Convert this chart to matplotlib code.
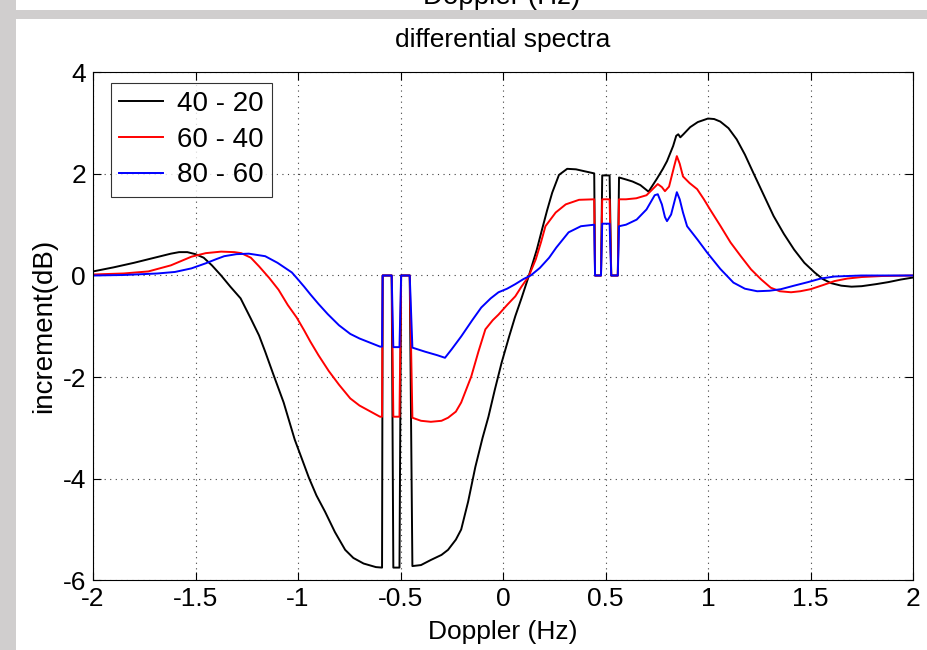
import matplotlib
matplotlib.use("Agg")
import matplotlib.pyplot as plt
from matplotlib.patches import Rectangle

plt.rcParams['font.family'] = ['Liberation Sans', 'DejaVu Sans']
plt.rcParams['axes.unicode_minus'] = False

# --- data ---
series_labels = ['40 - 20', '60 - 40', '80 - 60']
series_colors = ['black', 'red', 'blue']

x_40_20 = [-2.00, -1.90, -1.80, -1.70, -1.62, -1.58, -1.54, -1.50, -1.46, -1.42, -1.375,
           -1.33, -1.28, -1.23, -1.19, -1.16, -1.12, -1.07, -1.016, -0.98, -0.947, -0.91,
           -0.868, -0.82, -0.77, -0.73, -0.68,
           -0.62, -0.590, -0.587, -0.543, -0.535, -0.505, -0.497, -0.455, -0.442,
           -0.40, -0.352, -0.30, -0.268, -0.23, -0.204, -0.17, -0.135, -0.10, -0.071,
           -0.04, -0.007, 0.03, 0.06, 0.09, 0.125, 0.165, 0.19, 0.215, 0.24, 0.273, 0.313,
           0.356, 0.40, 0.445, 0.449, 0.478, 0.484, 0.520, 0.528, 0.560, 0.566,
           0.60, 0.632, 0.67, 0.71, 0.75, 0.78, 0.80, 0.83, 0.845, 0.855, 0.865, 0.88,
           0.913, 0.95, 1.00, 1.03, 1.06, 1.10, 1.14, 1.18, 1.22, 1.27, 1.32, 1.37,
           1.42, 1.47, 1.52, 1.56, 1.60, 1.65, 1.70, 1.75, 1.82, 1.88, 1.94, 2.00]
y_40_20 = [0.08, 0.16, 0.25, 0.35, 0.43, 0.46, 0.46, 0.42, 0.35, 0.20, 0.0,
           -0.22, -0.45, -0.85, -1.18, -1.50, -1.95, -2.50, -3.23, -3.62, -3.98, -4.33,
           -4.65, -5.05, -5.40, -5.56, -5.67,
           -5.74, -5.75, 0.0, 0.0, -5.75, -5.75, 0.0, 0.0, -5.72,
           -5.70, -5.60, -5.50, -5.40, -5.20, -5.00, -4.45, -3.77, -3.20, -2.78,
           -2.25, -1.72, -1.20, -0.80, -0.45, -0.02, 0.51, 0.90, 1.28, 1.63, 1.98, 2.10,
           2.09, 2.05, 2.01, 0.0, 0.0, 1.97, 1.97, 0.0, 0.0, 1.93,
           1.89, 1.85, 1.78, 1.65, 1.90, 2.10, 2.25, 2.55, 2.75, 2.78, 2.72, 2.78,
           2.92, 3.02, 3.09, 3.08, 3.03, 2.90, 2.68, 2.38, 2.03, 1.60, 1.17, 0.82,
           0.51, 0.25, 0.06, -0.07, -0.15, -0.20, -0.22, -0.21, -0.17, -0.13, -0.08, -0.04]

x_60_40 = [-2.00, -1.85, -1.73, -1.62, -1.52, -1.45, -1.375, -1.31, -1.277, -1.23, -1.19,
           -1.14, -1.095, -1.05, -1.006, -0.97, -0.94, -0.90, -0.85, -0.80, -0.745, -0.70,
           -0.65, -0.60,
           -0.590, -0.587, -0.543, -0.535, -0.505, -0.497, -0.455, -0.442,
           -0.40, -0.352, -0.30, -0.268, -0.23, -0.204, -0.18, -0.155, -0.12, -0.086,
           -0.05, -0.022, 0.02, 0.06, 0.09, 0.125, 0.16, 0.185, 0.207, 0.257, 0.306,
           0.371, 0.445, 0.449, 0.478, 0.484, 0.520, 0.528, 0.560, 0.566,
           0.60, 0.65, 0.70, 0.73, 0.755, 0.775, 0.79, 0.81, 0.835, 0.848, 0.862, 0.878,
           0.91, 0.947, 0.98, 1.01, 1.06, 1.11, 1.16, 1.21, 1.26, 1.306, 1.35, 1.405,
           1.45, 1.50, 1.56, 1.617, 1.68, 1.75, 1.85, 2.00]
y_60_40 = [0.02, 0.04, 0.08, 0.20, 0.37, 0.44, 0.47, 0.46, 0.44, 0.35, 0.18,
           -0.05, -0.28, -0.58, -0.83, -1.08, -1.30, -1.57, -1.88, -2.15, -2.42, -2.56,
           -2.67, -2.78,
           -2.78, 0.0, 0.0, -2.78, -2.78, 0.0, 0.0, -2.80,
           -2.86, -2.88, -2.86, -2.80, -2.68, -2.50, -2.25, -1.99, -1.50, -1.06,
           -0.88, -0.77, -0.58, -0.41, -0.22, -0.02, 0.32, 0.65, 0.97, 1.24, 1.40,
           1.49, 1.50, 0.0, 0.0, 1.50, 1.50, 0.0, 0.0, 1.50,
           1.50, 1.52, 1.58, 1.70, 1.80, 1.74, 1.66, 1.75, 2.15, 2.35, 2.20, 1.95,
           1.82, 1.70, 1.50, 1.30, 0.98, 0.65, 0.38, 0.12, -0.08, -0.24, -0.31, -0.33,
           -0.31, -0.27, -0.19, -0.11, -0.06, -0.03, -0.01, 0.0]

x_80_60 = [-2.00, -1.85, -1.685, -1.60, -1.52, -1.45, -1.40, -1.36, -1.30, -1.24, -1.16,
           -1.10, -1.03, -1.006, -0.97, -0.94, -0.90, -0.855, -0.80, -0.745, -0.70, -0.65,
           -0.60,
           -0.590, -0.587, -0.543, -0.535, -0.505, -0.497, -0.455, -0.442,
           -0.38, -0.32, -0.283, -0.25, -0.204, -0.15, -0.106, -0.06, -0.022, 0.02,
           0.06, 0.10, 0.135, 0.18, 0.225, 0.26, 0.32, 0.38, 0.445, 0.449, 0.478,
           0.484, 0.520, 0.528, 0.560, 0.566,
           0.60, 0.652, 0.70, 0.74, 0.755, 0.775, 0.79, 0.80, 0.82, 0.848, 0.862, 0.878,
           0.898, 0.95, 0.996, 1.06, 1.124, 1.18, 1.24, 1.30, 1.355, 1.42, 1.488, 1.55,
           1.617, 1.75, 2.00]
y_80_60 = [0.0, 0.01, 0.04, 0.07, 0.14, 0.24, 0.32, 0.38, 0.42, 0.43, 0.38,
           0.25, 0.06, -0.05, -0.22, -0.37, -0.56, -0.76, -0.98, -1.15, -1.24, -1.32,
           -1.40,
           -1.40, 0.0, 0.0, -1.41, -1.41, 0.0, 0.0, -1.42,
           -1.50, -1.57, -1.62, -1.45, -1.20, -0.88, -0.63, -0.45, -0.33, -0.26,
           -0.17, -0.07, 0.0, 0.15, 0.35, 0.55, 0.85, 0.97, 1.00, 0.0, 0.0,
           1.02, 1.02, 0.0, 0.0, 0.97,
           1.00, 1.10, 1.30, 1.58, 1.60, 1.40, 1.15, 1.07, 1.20, 1.64, 1.50, 1.24,
           0.97, 0.70, 0.45, 0.13, -0.14, -0.26, -0.31, -0.30, -0.27, -0.20, -0.13, -0.06,
           -0.02, 0.0, 0.0]

x_ticks = [-2, -1.5, -1, -0.5, 0, 0.5, 1, 1.5, 2]
x_tick_labels = ['-2', '-1.5', '-1', '-0.5', '0', '0.5', '1', '1.5', '2']
y_ticks = [-6, -4, -2, 0, 2, 4]

W, H = 927, 650
fig = plt.figure(figsize=(W / 100, H / 100), dpi=100, facecolor='white')

# grey window chrome around the figure
gray = '#d0cece'
fig.add_artist(Rectangle((0, 0), 16 / W, 1, transform=fig.transFigure,
                         facecolor=gray, edgecolor='none'))
fig.add_artist(Rectangle((0, 1 - 19 / H), 1, 9 / H, transform=fig.transFigure,
                         facecolor=gray, edgecolor='none'))
# label of the panel above, mostly cut off
fig.text(502 / W, 1 - 4 / H, 'Doppler (Hz)', ha='center', va='baseline', fontsize=20)

ax = fig.add_axes([93 / W, (H - 580.3) / H, 820 / W, 508 / H])

xs = [x_40_20, x_60_40, x_80_60]
ys = [y_40_20, y_60_40, y_80_60]
for x, y, c, lab in zip(xs, ys, series_colors, series_labels):
    ax.plot(x, y, color=c, lw=1.4, label=lab)

ax.set_xlim(-2, 2)
ax.set_ylim(-6, 4)
ax.set_xticks(x_ticks)
ax.set_xticklabels(x_tick_labels)
ax.set_yticks(y_ticks)
ax.tick_params(direction='in', length=6, width=0.8, top=True, right=True,
               labelsize=19, pad=5)
ax.grid(True, color='0.25', linestyle=(0, (1, 4)), linewidth=0.8)
for s in ax.spines.values():
    s.set_linewidth(0.8)

ax.set_title('differential spectra', fontsize=19, pad=18)
ax.set_xlabel('Doppler (Hz)', fontsize=19, labelpad=6)
ax.set_ylabel('increment(dB)', fontsize=20, labelpad=4)

leg = ax.legend(loc='upper left', bbox_to_anchor=(0.0216, 0.9795), fontsize=20,
                frameon=True, fancybox=False, borderaxespad=0, borderpad=0.3,
                handlelength=1.6, handletextpad=0.5, labelspacing=0.35)
leg.get_frame().set_edgecolor('black')
leg.get_frame().set_linewidth(0.8)

fig.savefig('out.png', dpi=100, facecolor='white')
